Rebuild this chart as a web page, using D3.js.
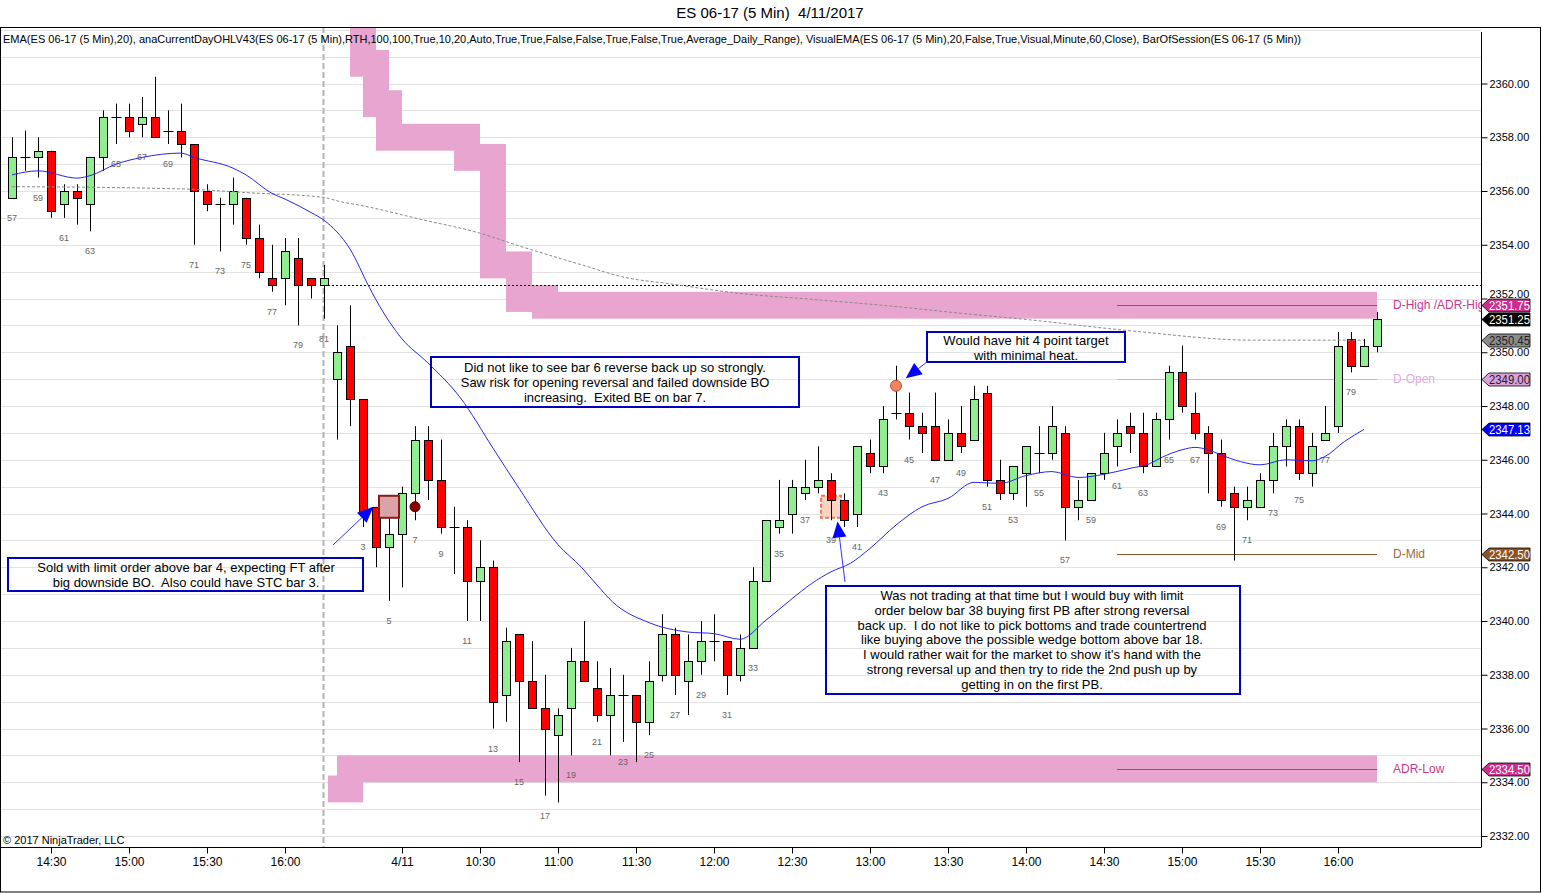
<!DOCTYPE html>
<meta charset="utf-8">
<script src="https://d3js.org/d3.v7.min.js"></script>
<style>
  body { margin: 0px; background: #fff; }
  text { font-family: "Liberation Sans", Arial, sans-serif; white-space: pre; }
</style>
<div id="chart"></div>
<script>

// ---- data: ES 06-17 5 min bars, [open, high, low, close] ----
// prior session, bars 57..81
const prevBars = [
  [2355.75, 2358.00, 2355.75, 2357.25], [2357.25, 2358.25, 2356.75, 2357.25],
  [2357.25, 2358.00, 2356.50, 2357.50], [2357.50, 2357.50, 2355.00, 2355.25],
  [2355.50, 2356.25, 2355.00, 2356.00], [2356.00, 2356.25, 2354.75, 2355.75],
  [2355.50, 2357.25, 2354.50, 2357.25], [2357.25, 2359.00, 2356.75, 2358.75],
  [2358.75, 2359.25, 2357.75, 2358.75], [2358.75, 2359.25, 2358.00, 2358.25],
  [2358.50, 2359.50, 2358.00, 2358.75], [2358.75, 2360.25, 2358.00, 2358.00],
  [2358.25, 2359.00, 2357.75, 2358.25], [2358.25, 2359.25, 2357.25, 2357.75],
  [2357.75, 2357.75, 2354.00, 2356.00], [2356.00, 2356.25, 2355.25, 2355.50],
  [2355.50, 2355.75, 2353.75, 2355.50], [2355.50, 2356.50, 2354.75, 2356.00],
  [2355.75, 2355.75, 2354.00, 2354.25], [2354.25, 2354.75, 2352.75, 2353.00],
  [2352.75, 2354.00, 2352.25, 2352.50], [2352.75, 2354.25, 2351.75, 2353.75],
  [2353.50, 2354.25, 2351.00, 2352.50], [2352.75, 2352.75, 2352.00, 2352.50],
  [2352.50, 2353.25, 2351.25, 2352.75]
];
const prevFirstBar = 57;

// 4/11 session, bars 1..81
const todayBars = [
  [2349.00, 2351.00, 2346.75, 2350.00], [2350.25, 2351.75, 2347.25, 2348.25],
  [2348.25, 2348.25, 2343.50, 2344.00], [2344.25, 2344.25, 2342.00, 2342.75],
  [2342.75, 2344.25, 2340.75, 2343.25], [2343.25, 2345.00, 2341.25, 2344.75],
  [2344.75, 2347.25, 2343.75, 2346.75], [2346.75, 2347.25, 2344.50, 2345.25],
  [2345.25, 2346.75, 2343.25, 2343.50], [2343.50, 2344.25, 2341.75, 2343.50],
  [2343.50, 2343.75, 2340.00, 2341.50], [2341.50, 2343.00, 2340.00, 2342.00],
  [2342.00, 2342.25, 2336.00, 2337.00], [2337.25, 2339.75, 2336.25, 2339.25],
  [2339.50, 2339.50, 2334.75, 2337.75], [2337.75, 2339.25, 2336.75, 2336.75],
  [2336.75, 2338.00, 2333.50, 2336.00], [2335.75, 2336.75, 2333.25, 2336.50],
  [2336.75, 2339.00, 2335.00, 2338.50], [2338.50, 2340.00, 2337.75, 2337.75],
  [2337.50, 2338.50, 2336.25, 2336.50], [2336.50, 2338.25, 2335.00, 2337.25],
  [2337.25, 2338.00, 2335.50, 2337.25], [2337.25, 2337.25, 2334.75, 2336.25],
  [2336.25, 2338.50, 2335.75, 2337.75], [2338.00, 2340.25, 2337.75, 2339.50],
  [2339.50, 2339.75, 2337.25, 2338.00], [2337.75, 2339.50, 2336.50, 2338.50],
  [2338.50, 2340.00, 2338.00, 2339.25], [2339.25, 2340.25, 2338.50, 2339.25],
  [2339.25, 2339.25, 2337.25, 2338.00], [2338.00, 2339.50, 2337.75, 2339.00],
  [2339.00, 2342.00, 2339.00, 2341.50], [2341.50, 2343.75, 2341.50, 2343.75],
  [2343.50, 2345.25, 2343.25, 2343.75], [2344.00, 2345.25, 2343.25, 2345.00],
  [2344.75, 2346.00, 2344.50, 2345.00], [2345.00, 2346.50, 2344.75, 2345.25],
  [2345.25, 2345.50, 2343.75, 2344.50], [2344.50, 2344.75, 2343.50, 2343.75],
  [2344.00, 2346.50, 2343.50, 2346.50], [2346.25, 2346.75, 2345.50, 2345.75],
  [2345.75, 2348.00, 2345.50, 2347.50], [2347.75, 2349.50, 2347.50, 2347.75],
  [2347.75, 2348.50, 2346.75, 2347.25], [2347.25, 2347.75, 2346.25, 2347.00],
  [2347.25, 2348.50, 2346.00, 2346.00], [2346.00, 2347.50, 2346.00, 2347.00],
  [2347.00, 2348.00, 2346.25, 2346.50], [2346.75, 2348.75, 2346.75, 2348.25],
  [2348.50, 2348.75, 2345.00, 2345.25], [2345.25, 2346.00, 2344.50, 2344.75],
  [2344.75, 2345.75, 2344.50, 2345.75], [2345.50, 2346.50, 2344.25, 2346.50],
  [2346.25, 2347.25, 2345.50, 2346.25], [2346.25, 2348.00, 2346.00, 2347.25],
  [2347.00, 2347.25, 2343.00, 2344.25], [2344.25, 2345.25, 2343.75, 2344.50],
  [2344.50, 2345.50, 2344.50, 2345.50], [2345.50, 2347.00, 2345.25, 2346.25],
  [2346.50, 2347.50, 2345.75, 2347.00], [2347.25, 2347.75, 2346.25, 2347.00],
  [2347.00, 2347.75, 2345.50, 2345.75], [2345.75, 2347.75, 2345.75, 2347.50],
  [2347.50, 2349.50, 2346.75, 2349.25], [2349.25, 2350.25, 2347.75, 2348.00],
  [2347.75, 2348.50, 2346.75, 2347.00], [2347.00, 2347.25, 2344.75, 2346.25],
  [2346.25, 2346.75, 2344.25, 2344.50], [2344.75, 2345.00, 2342.25, 2344.25],
  [2344.25, 2345.00, 2343.75, 2344.50], [2344.25, 2345.50, 2344.25, 2345.25],
  [2345.25, 2347.00, 2344.75, 2346.50], [2346.50, 2347.50, 2345.75, 2347.25],
  [2347.25, 2347.50, 2345.25, 2345.50], [2345.50, 2347.00, 2345.00, 2346.50],
  [2346.75, 2348.00, 2346.75, 2347.00], [2347.25, 2350.75, 2347.00, 2350.25],
  [2350.50, 2350.75, 2349.25, 2349.50], [2349.50, 2350.50, 2349.50, 2350.25],
  [2350.25, 2351.50, 2350.00, 2351.25]
];
// bar numbers that carry no label on the chart
const unlabeledToday = [1, 81];

// EMA(20): [bar position, value] (position 0 = last bar of prior session)
const emaPoints = [
  [-24, 2356.60], [-22, 2356.75], [-19, 2356.48], [-18, 2356.57], [-16, 2357.00],
  [-14, 2357.25], [-11, 2357.41], [-10, 2357.25], [-7, 2356.85], [-6, 2356.60],
  [-4, 2355.91], [-3, 2355.70], [-1, 2355.20], [0, 2354.91], [2, 2353.84],
  [3.5, 2352.40], [4, 2351.95], [6, 2350.50], [8, 2349.60], [10.5, 2348.30],
  [13, 2346.43], [15, 2344.94], [18, 2342.84], [19.8, 2342.00], [21, 2341.34],
  [22.2, 2340.71], [25, 2339.94], [28, 2339.59], [30, 2339.53], [32, 2339.32],
  [34, 2340.03], [36, 2340.83], [37.5, 2341.39], [39, 2341.83], [40.5, 2342.15],
  [42, 2342.70], [44, 2343.57], [46, 2344.25], [48, 2344.56], [50, 2345.16],
  [52, 2345.12], [54, 2345.41], [56, 2345.56], [58, 2345.34], [60, 2345.46],
  [62, 2345.68], [63.5, 2345.85], [64.5, 2346.10], [66, 2346.37], [67, 2346.46],
  [68, 2346.37], [69, 2346.18], [70.5, 2345.93], [72, 2345.81], [74, 2346.00],
  [76, 2345.96], [77, 2346.12], [78.5, 2346.68], [80, 2347.13]
];

// VisualEMA (60 min)
const visualEmaPoints = [
  [-24, 2356.16], [-14, 2356.11], [-10, 2356.06], [-6, 2355.94], [0, 2355.76],
  [1.2, 2355.61], [3, 2355.45], [7.4, 2354.95], [12, 2354.43], [15, 2353.96],
  [19.7, 2353.27], [23.3, 2352.77], [26.4, 2352.56], [32, 2352.19], [38, 2351.95],
  [44, 2351.70], [49, 2351.45], [54, 2351.22], [62, 2350.80], [71.5, 2350.45],
  [80, 2350.45]
];

// ADR zones: [from, to, top, bottom]
const adrHighZone = [
  [2, 3, 2362.5, 2360.25], [3, 4, 2362.5, 2358.75], [4, 5, 2361.25, 2357.5],
  [5, 6, 2359.75, 2357.5], [6, 10, 2358.5, 2357.5], [10, 12, 2358.5, 2356.75],
  [12, 14, 2357.75, 2352.75], [14, 16, 2353.75, 2351.5], [16, 18, 2352.5, 2351.25],
  [18, 81, 2352.25, 2351.25]
];
const adrLowZone = [
  [0.3, 3, 2334.25, 2333.25], [1, 81, 2335.0, 2334.0]
];

// day levels
const levelNames  = ["D-High /ADR-High", "D-Open", "D-Mid", "ADR-Low"];
const levelPrices = [2351.75, 2349.00, 2342.50, 2334.50];
const levelColors = ["#c8308c", "#dca4dc", "#8b5a2b", "#c8308c"];
const levelTextColors = ["#c8378f", "#dcaadc", "#9c6b3c", "#c8378f"];
const priorClose = 2352.5;

// right-axis price markers
const markerPrices = [2351.75, 2351.25, 2350.45, 2349.00, 2347.13, 2342.50, 2334.50];
const markerFills  = ["#cc2e8f", "#000000", "#8c8c8c", "#dda0dd", "#0000ff", "#8e5325", "#cc2e8f"];
const markerInk    = ["#ffffff", "#ffffff", "#222222", "#222222", "#ffffff", "#ffffff", "#ffffff"];

const priceTicks = d3.range(2332, 2361, 2);
const timeLabels = ["14:30", "15:00", "15:30", "16:00", "4/11", "10:30", "11:00", "11:30",
  "12:00", "12:30", "13:00", "13:30", "14:00", "14:30", "15:00", "15:30", "16:00"];
const timeIdx = [-21, -15, -9, -3, 6, 12, 18, 24, 30, 36, 42, 48, 54, 60, 66, 72, 78];

// trade marks: [bar position, price]
const shortEntry = [5, 2344.25];
const shortExit  = [7, 2344.25];
const targetHit  = [44, 2348.75];
const limitBuy   = [39, 2344.25];

const notes = [
  { box: [431, 357, 799, 407], cx: 615, y0: 372, lines: [
      "Did not like to see bar 6 reverse back up so strongly.",
      "Saw risk for opening reversal and failed downside BO",
      "increasing.  Exited BE on bar 7."] },
  { box: [927, 332, 1125, 362], cx: 1026, y0: 345, lines: [
      "Would have hit 4 point target", "with minimal heat."] },
  { box: [8, 558, 363, 591], cx: 186, y0: 572, lines: [
      "Sold with limit order above bar 4, expecting FT after",
      "big downside BO.  Also could have STC bar 3."] },
  { box: [826, 586, 1240, 694], cx: 1032, y0: 600, lines: [
      "Was not trading at that time but I would buy with limit",
      "order below bar 38 buying first PB after strong reversal",
      "back up.  I do not like to pick bottoms and trade countertrend",
      "like buying above the possible wedge bottom above bar 18.",
      "I would rather wait for the market to show it's hand with the",
      "strong reversal up and then try to ride the 2nd push up by",
      "getting in on the first PB."] }
];
// arrows: tail in pixels, tip in [bar position, price]
const arrows = [
  { from: [333, 545], to: [3.8, 2344.25] },
  { from: [845, 582], to: [39.5, 2343.7] },
  { from: [927, 362], to: [44.75, 2349.03] }
];

// ---- layout ----
const W = 1542, H = 893;
const plotLeft = 0, plotRight = 1481, plotTop = 27, plotBottom = 847;

const x = d3.scaleLinear().domain([0, 81]).range([324, 1377]);
const y = d3.scaleLinear().domain([2332, 2360]).range([836, 83.5]);

const bars = [];
prevBars.forEach((b, j) => bars.push({ num: prevFirstBar + j, idx: prevFirstBar + j - 81,
  today: false, o: b[0], h: b[1], l: b[2], c: b[3] }));
todayBars.forEach((b, j) => bars.push({ num: j + 1, idx: j + 1,
  today: true, o: b[0], h: b[1], l: b[2], c: b[3] }));

const svg = d3.select("#chart").append("svg")
  .attr("width", W).attr("height", H)
  .style("display", "block");

svg.append("defs").append("clipPath").attr("id", "plot")
  .append("rect").attr("x", plotLeft).attr("y", plotTop)
  .attr("width", plotRight - plotLeft).attr("height", plotBottom - plotTop);

// title
svg.append("text").attr("x", 770).attr("y", 18).attr("text-anchor", "middle")
  .style("font-size", "15px").text("ES 06-17 (5 Min)  4/11/2017");

const plot = svg.append("g").attr("clip-path", "url(#plot)");

// horizontal grid every point
plot.selectAll(".grid").data(d3.range(2332, 2363))
  .enter().append("line")
  .attr("x1", plotLeft).attr("x2", plotRight)
  .attr("y1", d => Math.round(y(d)) + 0.5).attr("y2", d => Math.round(y(d)) + 0.5)
  .attr("stroke", "#e2e2e2");

// ADR zones
const zoneFill = "#e8a5cf";
plot.selectAll(".zh").data(adrHighZone.concat(adrLowZone))
  .enter().append("rect")
  .attr("x", d => x(d[0])).attr("width", d => x(d[1]) - x(d[0]))
  .attr("y", d => y(d[2])).attr("height", d => y(d[3]) - y(d[2]))
  .attr("fill", zoneFill);

// session break
plot.append("line")
  .attr("x1", x(0) - 0.5).attr("x2", x(0) - 0.5)
  .attr("y1", plotTop).attr("y2", plotBottom)
  .attr("stroke", "#b4b4b4").attr("stroke-width", 2).attr("stroke-dasharray", "6,3");

// prior close dashed
plot.append("line")
  .attr("x1", x(0)).attr("x2", plotRight)
  .attr("y1", Math.round(y(priorClose)) + 0.5).attr("y2", Math.round(y(priorClose)) + 0.5)
  .attr("stroke", "#000").attr("stroke-dasharray", "2,2");

// day level lines
levelPrices.forEach((p, i) => {
  plot.append("line")
    .attr("x1", x(61)).attr("x2", x(81))
    .attr("y1", Math.round(y(p)) + 0.5).attr("y2", Math.round(y(p)) + 0.5)
    .attr("stroke", levelColors[i]);
  plot.append("text")
    .attr("x", 1393).attr("y", y(p) + 4)
    .style("font-size", "12px").attr("fill", levelTextColors[i])
    .text(levelNames[i]);
});

// limit buy box (under the bars)
plot.append("rect")
  .attr("x", x(limitBuy[0]) - 10).attr("y", y(limitBuy[1]) - 11)
  .attr("width", 20).attr("height", 22)
  .attr("fill", "#fcd3c3").attr("stroke", "#f07a55")
  .attr("stroke-width", 2).attr("stroke-dasharray", "4,2");

// candles
const cx = d => Math.round(x(d.idx)) + 0.5;
const candles = plot.selectAll(".bar").data(bars).enter().append("g");
candles.append("line")
  .attr("x1", cx).attr("x2", cx)
  .attr("y1", d => y(d.h)).attr("y2", d => y(d.l))
  .attr("stroke", "#000");
candles.filter(d => d.o !== d.c).append("rect")
  .attr("x", d => cx(d) - 4).attr("width", 8)
  .attr("y", d => Math.round(y(Math.max(d.o, d.c))) + 0.5)
  .attr("height", d => Math.max(1, Math.round(y(Math.min(d.o, d.c))) - Math.round(y(Math.max(d.o, d.c)))))
  .attr("fill", d => d.c > d.o ? "#90ee90" : "#ff0000")
  .attr("stroke", "#000");
candles.filter(d => d.o === d.c).append("line")
  .attr("x1", d => cx(d) - 5).attr("x2", d => cx(d) + 5)
  .attr("y1", d => Math.round(y(d.c)) + 0.5).attr("y2", d => Math.round(y(d.c)) + 0.5)
  .attr("stroke", "#000");

// bar numbers
plot.selectAll(".num")
  .data(bars.filter(d => d.num % 2 === 1 && !(d.today && unlabeledToday.includes(d.num))))
  .enter().append("text")
  .attr("x", d => x(d.idx)).attr("y", d => y(d.l) + 23)
  .attr("text-anchor", "middle").style("font-size", "9px").attr("fill", "#666")
  .text(d => d.num);

// moving averages
const line = d3.line().x(d => x(d[0])).y(d => y(d[1])).curve(d3.curveMonotoneX);
plot.append("path").datum(visualEmaPoints).attr("d", line)
  .attr("fill", "none").attr("stroke", "#8a8a8a").attr("stroke-dasharray", "3,2");
plot.append("path").datum(emaPoints).attr("d", line)
  .attr("fill", "none").attr("stroke", "#2626ee");

// trade marks
plot.append("rect")
  .attr("x", x(shortEntry[0]) - 10).attr("y", y(shortEntry[1]) - 11)
  .attr("width", 20).attr("height", 22)
  .attr("fill", "#d9a3a8").attr("stroke", "#8b1a1a").attr("stroke-width", 2);
plot.append("circle")
  .attr("cx", x(shortExit[0])).attr("cy", y(shortExit[1])).attr("r", 5)
  .attr("fill", "#8b0000").attr("stroke", "#5a0000");
plot.append("circle")
  .attr("cx", x(targetHit[0])).attr("cy", y(targetHit[1])).attr("r", 5.5)
  .attr("fill", "#f4845f").attr("stroke", "#b5502c");

// notes
notes.forEach(n => {
  svg.append("rect")
    .attr("x", n.box[0]).attr("y", n.box[1])
    .attr("width", n.box[2] - n.box[0]).attr("height", n.box[3] - n.box[1])
    .attr("fill", "none").attr("stroke", "#0000c0").attr("stroke-width", 2);
  n.lines.forEach((t, i) => {
    svg.append("text").attr("x", n.cx).attr("y", n.y0 + i * 14.8)
      .attr("text-anchor", "middle").style("font-size", "13px").attr("fill", "#000")
      .text(t);
  });
});

arrows.forEach(a => {
  const tx = x(a.to[0]), ty = y(a.to[1]);
  const dx = tx - a.from[0], dy = ty - a.from[1];
  const len = Math.sqrt(dx * dx + dy * dy), ux = dx / len, uy = dy / len;
  const bx = tx - ux * 16, by = ty - uy * 16;
  svg.append("line")
    .attr("x1", a.from[0]).attr("y1", a.from[1]).attr("x2", bx).attr("y2", by)
    .attr("stroke", "#3333ff");
  svg.append("path")
    .attr("d", `M${tx},${ty}L${bx - uy * 7},${by + ux * 7}L${bx + uy * 7},${by - ux * 7}Z`)
    .attr("fill", "#0000ff");
});

// indicator list
svg.append("text").attr("x", 3).attr("y", 43)
  .style("font-size", "11px")
  .attr("textLength", 1298).attr("lengthAdjust", "spacingAndGlyphs")
  .text("EMA(ES 06-17 (5 Min),20), anaCurrentDayOHLV43(ES 06-17 (5 Min),RTH,100,100,True,10,20,Auto,True,True,False,False,True,False,True,Average_Daily_Range), VisualEMA(ES 06-17 (5 Min),20,False,True,Visual,Minute,60,Close), BarOfSession(ES 06-17 (5 Min))");

svg.append("text").attr("x", 3).attr("y", 844)
  .style("font-size", "11px").text("\u00a9 2017 NinjaTrader, LLC");

// frame and axes
svg.append("rect").attr("x", 0.5).attr("y", plotTop + 0.5)
  .attr("width", W - 2).attr("height", H - plotTop - 1.5)
  .attr("fill", "none").attr("stroke", "#000");

const yAxis = svg.append("g")
  .attr("transform", `translate(${plotRight + 0.5},0)`)
  .call(d3.axisRight(y).tickValues(priceTicks).tickSize(6).tickPadding(2)
    .tickFormat(d3.format(".2f")));
yAxis.select(".domain").attr("d", `M0,32V${plotBottom}`);
yAxis.selectAll("text").style("font-size", "11px").attr("fill", "#000")
  .style("font-family", "'Liberation Sans', Arial, sans-serif");
// the 2352 label sits half under the D-High marker, as in the original
yAxis.selectAll(".tick").filter(d => d === 2352).select("text").attr("dy", "-0.05em");

const xAxis = svg.append("g")
  .attr("transform", `translate(0,${plotBottom + 0.5})`)
  .call(d3.axisBottom(x).tickValues(timeIdx).tickSize(6).tickPadding(4)
    .tickFormat((d, i) => timeLabels[i]));
xAxis.select(".domain").attr("d", `M${plotLeft},0H${plotRight + 0.5}`);
xAxis.selectAll("text").style("font-size", "12px").attr("fill", "#000")
  .style("font-family", "'Liberation Sans', Arial, sans-serif");

// right price markers
markerPrices.forEach((p, i) => {
  const yc = Math.round(y(p)) + 0.5;
  svg.append("path")
    .attr("d", `M${plotRight + 1},${yc}L${plotRight + 8},${yc - 6.5}H1530V${yc + 6.5}H${plotRight + 8}Z`)
    .attr("fill", markerFills[i]).attr("stroke", "#000").attr("stroke-width", 0.8);
  svg.append("text").attr("x", plotRight + 8).attr("y", yc + 4.5)
    .style("font-size", "12px").attr("fill", markerInk[i])
    .attr("textLength", 41).attr("lengthAdjust", "spacingAndGlyphs")
    .text(d3.format(".2f")(p));
});
</script>
